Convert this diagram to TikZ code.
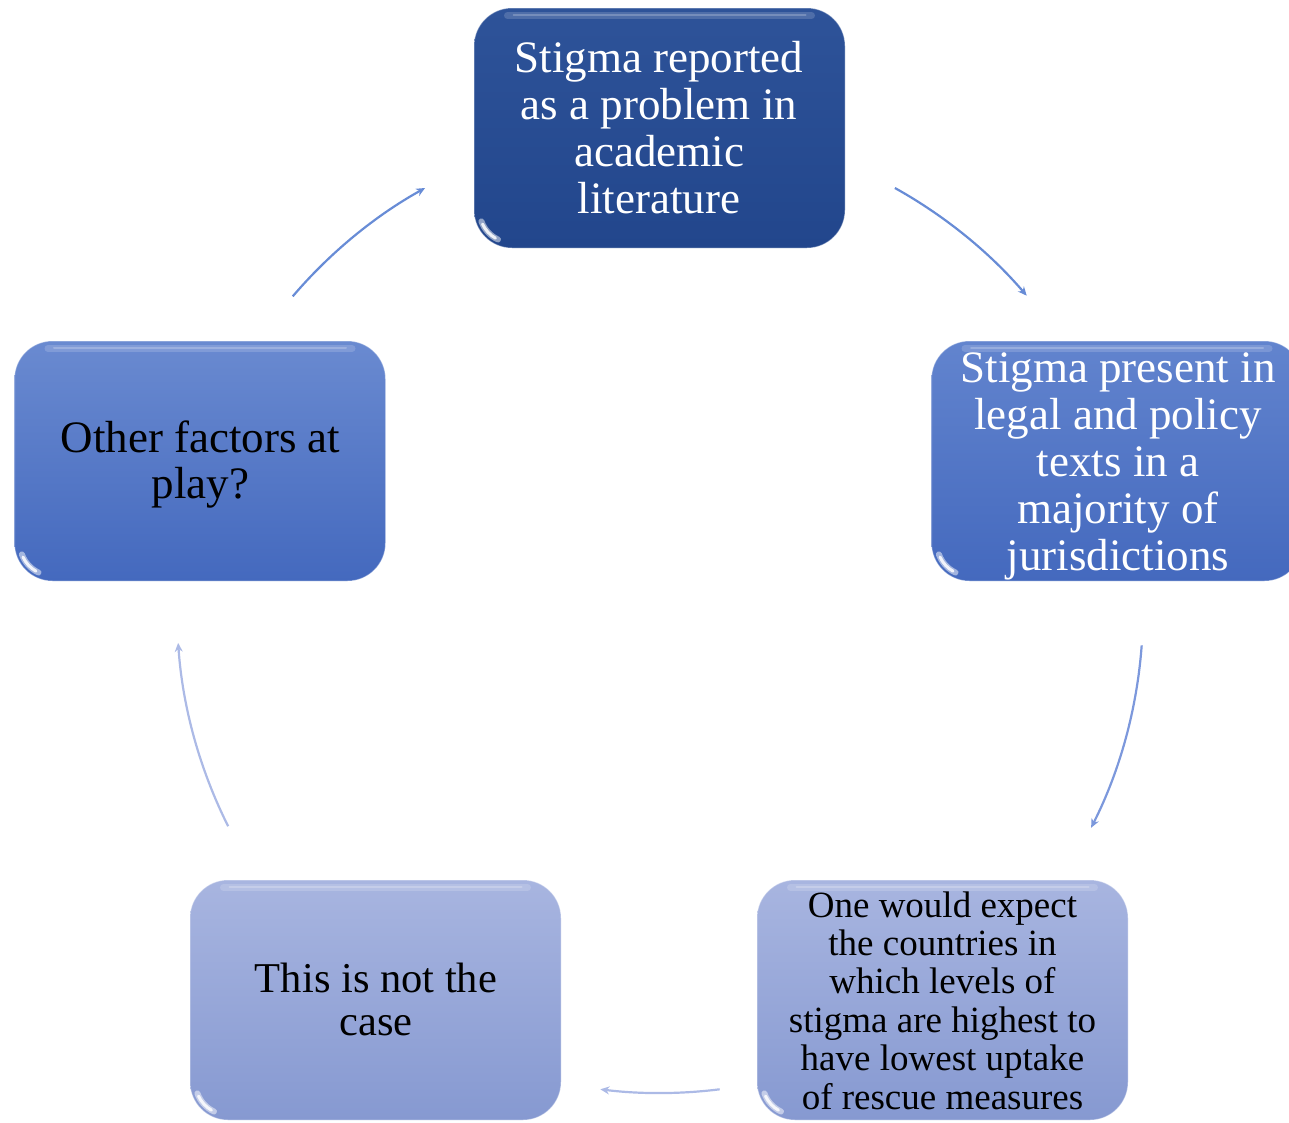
\documentclass[tikz,border=0pt]{standalone}
\usepackage{fontspec}
\setmainfont{Liberation Serif}
\usetikzlibrary{arrows.meta}

\definecolor{darkTop}{RGB}{46,83,153}
\definecolor{darkBot}{RGB}{34,70,140}
\definecolor{midTop}{RGB}{98,132,206}
\definecolor{midBot}{RGB}{68,105,190}
\definecolor{lightTop}{RGB}{168,181,224}
\definecolor{lightBot}{RGB}{134,153,209}
\definecolor{arcStrong}{RGB}{104,140,214}
\definecolor{arcMid}{RGB}{124,152,220}
\definecolor{arcPale}{RGB}{172,186,230}

\tikzset{
  gel/.style={rounded corners=38pt, minimum width=371pt, minimum height=240pt,
    inner sep=0pt, draw=white, draw opacity=0.35, line width=1pt},
  gelshine/.style={white, line cap=round},
  label/.style={align=center, anchor=base, inner sep=0pt},
  cyc/.style={line width=2.2pt, -{Stealth[length=9pt,width=8pt]}},
}

\newcommand\glossy[1]{%
  % soft light band under the top edge
  \draw[gelshine, line width=7pt, opacity=0.16]
    ([xshift=34pt,yshift=-8pt]#1.north west) -- ([xshift=-34pt,yshift=-8pt]#1.north east);
  \draw[gelshine, line width=2pt, opacity=0.22]
    ([xshift=40pt,yshift=-7pt]#1.north west) -- ([xshift=-40pt,yshift=-7pt]#1.north east);
  % glint in the lower left corner
  \draw[gelshine, line width=6pt, opacity=0.5]
    ([xshift=38pt,yshift=38pt]#1.south west) ++(200:32pt) arc[start angle=200, end angle=245, radius=32pt];
  \draw[gelshine, line width=3pt, opacity=0.85]
    ([xshift=38pt,yshift=38pt]#1.south west) ++(205:32pt) arc[start angle=205, end angle=240, radius=32pt];
}

\begin{document}
\begin{tikzpicture}[x=1pt,y=1pt]
\useasboundingbox (0,0) rectangle (1289,-1122);
\clip (0,0) rectangle (1289,-1122);

% boxes
\node[gel, top color=darkTop, bottom color=darkBot] (top) at (659.5,-128) {};
\node[gel, top color=midTop, bottom color=midBot] (right) at (1117,-461) {};
\node[gel, top color=lightTop, bottom color=lightBot] (botright) at (942.5,-1000) {};
\node[gel, top color=lightTop, bottom color=lightBot] (botleft) at (375.5,-1000) {};
\node[gel, top color=midTop!95!white, bottom color=midBot] (left) at (200,-461) {};
\glossy{top}
\glossy{right}
\glossy{botright}
\glossy{botleft}
\glossy{left}

% texts (anchored at the baseline of their last line)
\node[label, text=white, font=\fontsize{45}{47}\selectfont] (ttop) at (659,-213)
  {Stigma reported\\as a problem in\\academic\\literature};
\node[label, text=white, font=\fontsize{45}{47}\selectfont] (tright) at (1118,-570)
  {Stigma present in\\legal and policy\\texts in a\\majority of\\jurisdictions};
\node[label, text=black, font=\fontsize{37}{38.4}\selectfont] (tbotright) at (942.5,-1109)
  {One would expect\\the countries in\\which levels of\\stigma are highest to\\have lowest uptake\\of rescue measures};
\node[label, text=black, font=\fontsize{42.5}{43.5}\selectfont] (tbotleft) at (376,-1035.5)
  {This is not the\\case};
\node[label, text=black, font=\fontsize{45}{46}\selectfont] (tleft) at (200.5,-498)
  {Other factors at\\play?};

% cycle arrows on a common circle
\coordinate (hub) at (660,-610);
\path (hub) ++(139.5:483) coordinate (s1);
\path (hub) ++(60.9:483) coordinate (s2);
\path (hub) ++(-4.2:483) coordinate (s3);
\path (hub) ++(-82.9:483) coordinate (s4);
\path (hub) ++(206.6:483) coordinate (s5);
\draw[cyc, arcStrong] (s1) arc[start angle=139.5, end angle=119.1, radius=483];
\draw[cyc, arcStrong] (s2) arc[start angle=60.9, end angle=40.6, radius=483];
\draw[cyc, arcMid] (s3) arc[start angle=-4.2, end angle=-26.8, radius=483];
\draw[cyc, arcPale] (s4) arc[start angle=-82.9, end angle=-97.1, radius=483];
\draw[cyc, arcPale] (s5) arc[start angle=206.6, end angle=183.9, radius=483];
\end{tikzpicture}
\end{document}
